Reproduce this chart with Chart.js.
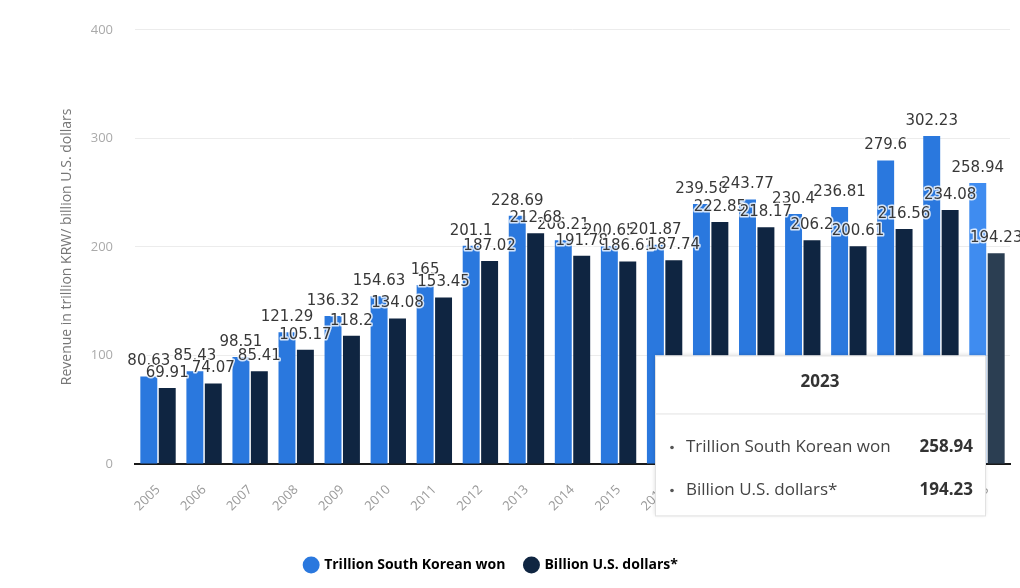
<!DOCTYPE html>
<html>
<head>
<meta charset="utf-8">
<script src="https://cdn.jsdelivr.net/npm/chart.js@4"></script>
<style>
  html, body { margin: 0; padding: 0; background: #fff; }
  #wrap { width: 1020px; height: 588px; position: relative; }
</style>
</head>
<body>
<div id="wrap"><canvas id="revenueChart" width="1020" height="588"></canvas></div>
<script>
const years = ['2005', '2006', '2007', '2008', '2009', '2010', '2011', '2012', '2013', '2014',
  '2015', '2016', '2017', '2018', '2019', '2020', '2021', '2022', '2023'];
const wonValues = [80.63, 85.43, 98.51, 121.29, 136.32, 154.63, 165, 201.1, 228.69, 206.21,
  200.65, 201.87, 239.58, 243.77, 230.4, 236.81, 279.6, 302.23, 258.94];
const usdValues = [69.91, 74.07, 85.41, 105.17, 118.2, 134.08, 153.45, 187.02, 212.68, 191.78,
  186.61, 187.74, 222.85, 218.17, 206.2, 200.61, 216.56, 234.08, 194.23];
const seriesNames = ['Trillion South Korean won', 'Billion U.S. dollars*'];
const yTicks = [0, 100, 200, 300, 400];
const hoverIndex = years.length - 1;

const blue = '#2a78de';
const navy = '#0f2541';
const blueHover = '#3f8cf0';
const navyHover = '#2b3e52';

function colorsFor(base, hover) {
  return years.map((y, i) => (i === hoverIndex ? hover : base));
}

// value labels over each bar
const valueLabels = {
  id: 'valueLabels',
  afterDatasetsDraw(chart) {
    const ctx = chart.ctx;
    ctx.save();
    ctx.font = '15px "DejaVu Sans", sans-serif';
    ctx.textAlign = 'center';
    ctx.textBaseline = 'middle';
    ctx.lineJoin = 'round';
    chart.data.datasets.forEach((ds, di) => {
      const meta = chart.getDatasetMeta(di);
      meta.data.forEach((bar, i) => {
        const txt = String(ds.data[i]);
        ctx.lineWidth = 3;
        ctx.strokeStyle = 'rgba(255,255,255,0.8)';
        ctx.strokeText(txt, bar.x, bar.y - 15);
        ctx.fillStyle = '#383838';
        ctx.fillText(txt, bar.x, bar.y - 15);
      });
    });
    ctx.restore();
  }
};

// legend sits a little left of centre in the original
const legendShift = {
  id: 'legendShift',
  afterLayout(chart) {
    chart.legend.left -= 43;
    chart.legend.right -= 43;
  }
};

// fixed hover box for the last year
const hoverBox = {
  id: 'hoverBox',
  afterDraw(chart) {
    const ctx = chart.ctx;
    const area = chart.chartArea;
    const w = 330, h = 160;
    const x = area.right - w - 25;
    const y = chart.scales.y.getPixelForValue(100);
    ctx.save();
    ctx.shadowColor = 'rgba(0,0,0,0.15)';
    ctx.shadowBlur = 4;
    ctx.fillStyle = '#fff';
    ctx.fillRect(x, y, w, h);
    ctx.shadowColor = 'transparent';
    ctx.strokeStyle = '#e2e2e2';
    ctx.lineWidth = 1;
    ctx.strokeRect(x + 0.5, y + 0.5, w, h);
    ctx.beginPath();
    ctx.moveTo(x, y + 58.5);
    ctx.lineTo(x + w, y + 58.5);
    ctx.stroke();
    ctx.fillStyle = '#333';
    ctx.font = 'bold 17px "Open Sans", sans-serif';
    ctx.textAlign = 'center';
    ctx.textBaseline = 'middle';
    ctx.fillText(years[hoverIndex], x + w / 2, y + 27);
    const rows = [wonValues[hoverIndex], usdValues[hoverIndex]];
    rows.forEach((v, r) => {
      const ry = y + 92 + r * 43;
      ctx.fillStyle = '#555';
      ctx.beginPath();
      ctx.arc(x + 17, ry, 1.8, 0, Math.PI * 2);
      ctx.fill();
      ctx.textAlign = 'left';
      ctx.font = '17px "Open Sans", sans-serif';
      ctx.fillStyle = '#444';
      ctx.fillText(seriesNames[r], x + 31, ry);
      ctx.textAlign = 'right';
      ctx.font = 'bold 17px "Open Sans", sans-serif';
      ctx.fillStyle = '#333';
      ctx.fillText(v.toFixed(2), x + w - 12, ry);
    });
    ctx.restore();
  }
};

const ctx = document.getElementById('revenueChart');
new Chart(ctx, {
  type: 'bar',
  data: {
    labels: years,
    datasets: [
      {
        label: seriesNames[0],
        data: wonValues,
        backgroundColor: colorsFor(blue, blueHover),
        barPercentage: 0.92,
        categoryPercentage: 0.8,
      },
      {
        label: seriesNames[1],
        data: usdValues,
        backgroundColor: colorsFor(navy, navyHover),
        barPercentage: 0.92,
        categoryPercentage: 0.8,
      },
    ],
  },
  options: {
    responsive: false,
    animation: false,
    layout: { padding: { left: 59, right: 10, top: 26, bottom: 6 } },
    scales: {
      x: {
        grid: { display: false },
        border: { color: '#1a1a1a', width: 2 },
        afterFit(scale) {
          scale.height = 74;
          scale.paddingLeft = 0;
          scale.paddingRight = 0;
        },
        ticks: {
          maxRotation: 45,
          minRotation: 45,
          padding: 10,
          color: '#999',
          font: { size: 13, family: '"Open Sans", sans-serif' },
        },
      },
      y: {
        min: 0,
        max: 400,
        afterFit(scale) { scale.width = 76; },
        afterBuildTicks(axis) {
          axis.ticks = yTicks.map(v => ({ value: v }));
        },
        grid: { color: '#ececec', drawTicks: false },
        border: { display: false },
        ticks: {
          padding: 22,
          color: '#aaa',
          font: { size: 13, family: '"Open Sans", sans-serif' },
        },
        title: {
          display: true,
          text: 'Revenue in trillion KRW/ billion U.S. dollars',
          color: '#777',
          padding: { top: 0, bottom: 4 },
          font: { size: 14, family: '"Open Sans", sans-serif' },
        },
      },
    },
    plugins: {
      tooltip: { enabled: false },
      legend: {
        position: 'bottom',
        labels: {
          usePointStyle: true,
          pointStyle: 'circle',
          boxWidth: 12,
          boxHeight: 12,
          padding: 20,
          color: '#333',
          font: { size: 14, weight: 'bold', family: '"Open Sans", sans-serif' },
          generateLabels(chart) {
            return chart.data.datasets.map((ds, i) => ({
              text: ds.label,
              fillStyle: i === 0 ? blue : navy,
              strokeStyle: i === 0 ? blue : navy,
              pointStyle: 'circle',
              lineWidth: 0,
              datasetIndex: i,
            }));
          },
        },
      },
    },
  },
  plugins: [valueLabels, legendShift, hoverBox],
});
</script>
</body>
</html>
